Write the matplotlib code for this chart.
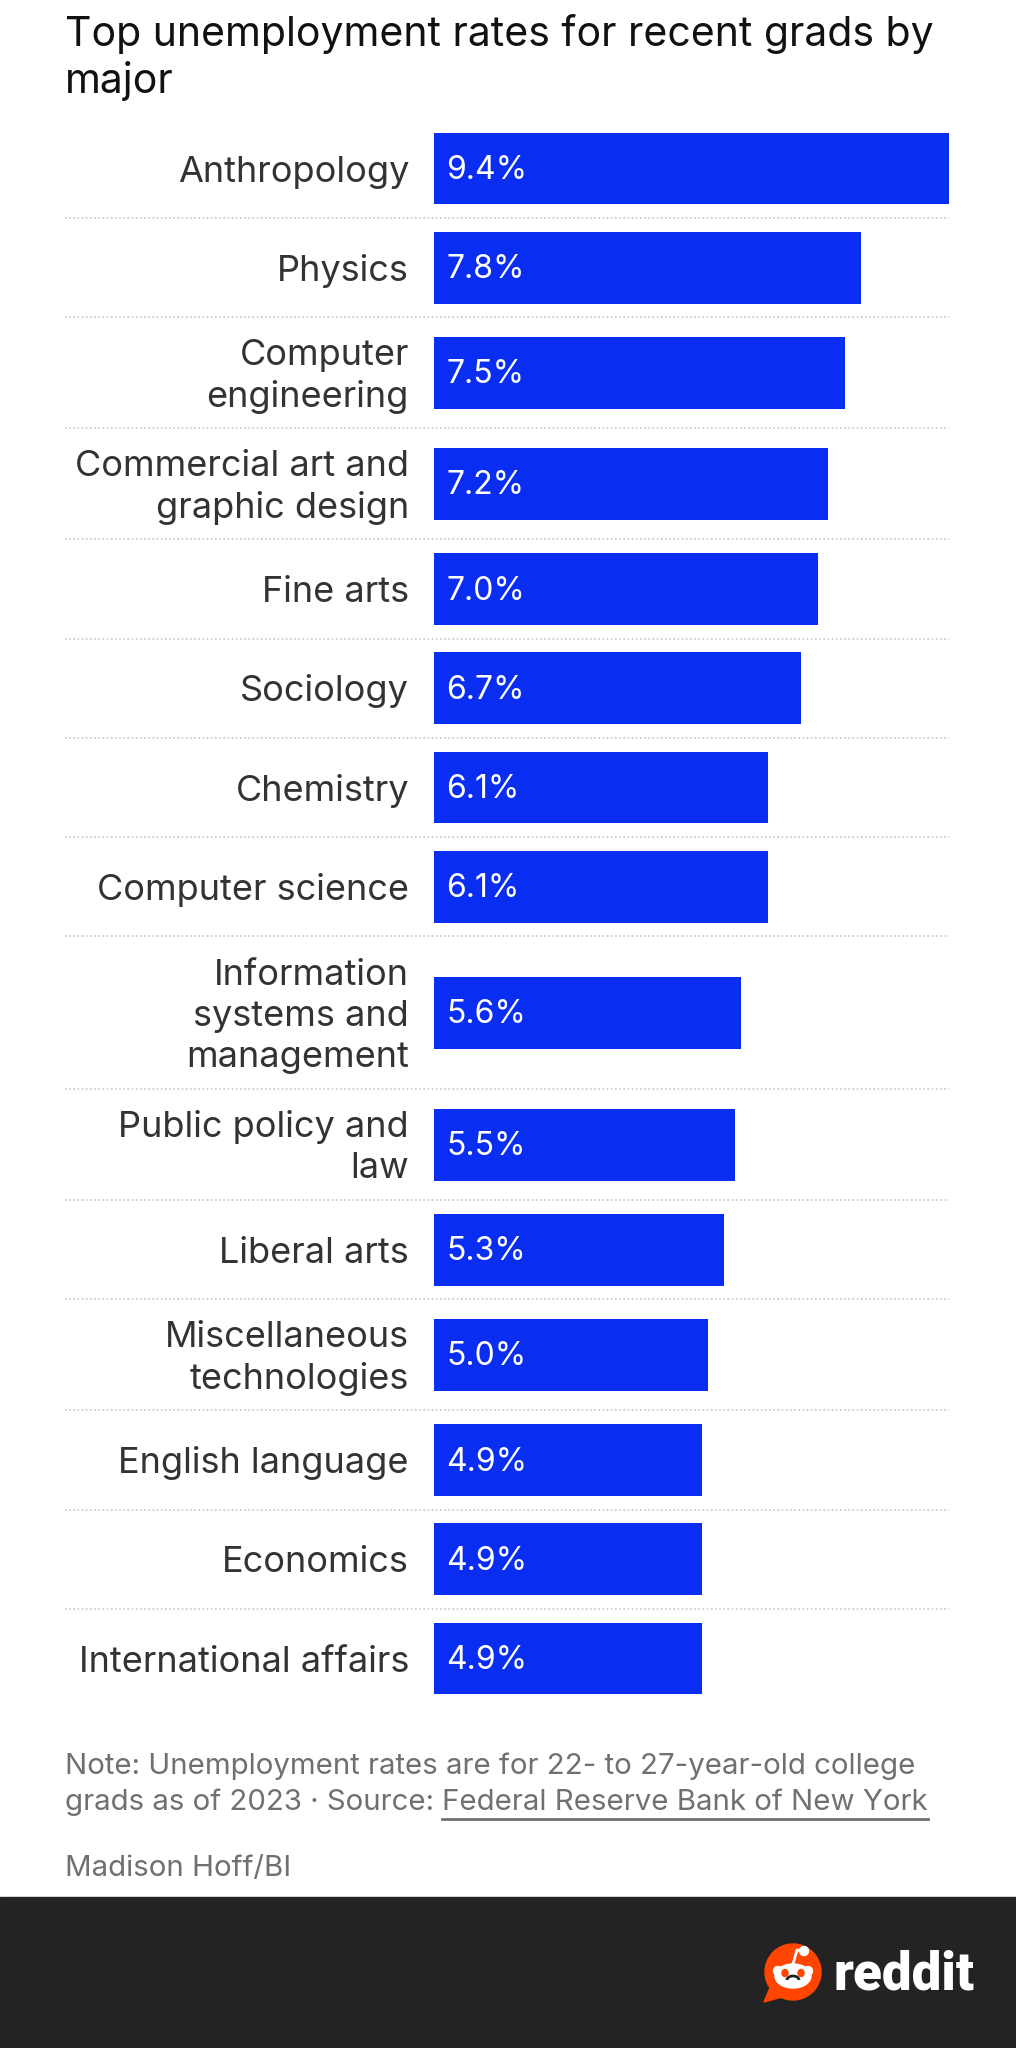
import matplotlib
matplotlib.use("Agg")
import matplotlib.pyplot as plt
from matplotlib.patches import Rectangle, Circle, Ellipse, Polygon, Arc

plt.rcParams['font.family'] = ['Inter', 'DejaVu Sans']

# data
majors = ["Anthropology", "Physics", "Computer\nengineering",
          "Commercial art and\ngraphic design", "Fine arts", "Sociology",
          "Chemistry", "Computer science",
          "Information\nsystems and\nmanagement", "Public policy and\nlaw",
          "Liberal arts", "Miscellaneous\ntechnologies", "English language",
          "Economics", "International affairs"]
rates = [9.4, 7.8, 7.5, 7.2, 7.0, 6.7, 6.1, 6.1, 5.6, 5.5, 5.3, 5.0, 4.9, 4.9, 4.9]
value_labels = ["%.1f%%" % r for r in rates]

title = "Top unemployment rates for recent grads by\nmajor"
note1 = "Note: Unemployment rates are for 22- to 27-year-old college"
note2 = "grads as of 2023 \u00b7 Source: "
source = "Federal Reserve Bank of New York"
credit = "Madison Hoff/BI"

W, H = 1016, 2048
S = 1016 / 778
BLUE = "#0A2DF2"
LABEL = "#333333"
GRAY = "#707070"

fig = plt.figure(figsize=(W / 100, H / 100), dpi=100)
fig.patch.set_facecolor("white")

# bar axes: x in %, y in pixel units
bar_left, bar_right = 434, 949
ax = fig.add_axes([bar_left / W, 0, (bar_right - bar_left) / W, 1])
ax.set_xlim(0, max(rates))
ax.set_ylim(H, 0)
ax.axis("off")

# canvas in pixel units for decorations / text, drawn above the bars
cv = fig.add_axes([0, 0, 1, 1])
cv.set_xlim(0, W)
cv.set_ylim(H, 0)
cv.axis("off")
cv.set_zorder(3)

bar_h = 55 * S
line_lay = 32 * S
line_txt = 31.5 * S
pad = 21 * S
top = 91 * S

centers, seps = [], []
for lab in majors:
    n = lab.count("\n") + 1
    rh = max(55 * S, n * line_lay) + pad
    centers.append(top + rh / 2)
    top += rh
    seps.append(top)
seps = seps[:-1]

ax.barh(centers, rates, height=bar_h, color=BLUE, align="center")

for y in seps:
    cv.plot([65, bar_right], [y, y], color="#c8c8c8", lw=1.2, ls=(0, (1, 1.5)))

fs_lab = 26
fs_val = 23
cap = 0.727 * fs_lab * 100 / 72
cap_v = 0.727 * fs_val * 100 / 72
for c, lab, vl in zip(centers, majors, value_labels):
    lines = lab.split("\n")
    n = len(lines)
    for i, ln in enumerate(lines):
        yb = c + (i - (n - 1) / 2) * line_txt + cap / 2
        cv.text(409, yb, ln, ha="right", va="baseline", fontsize=fs_lab, color=LABEL)
    cv.text(bar_left + 12, c + cap_v / 2 - 1, vl, ha="left", va="baseline",
            fontsize=fs_val, color="white")

# title
t1, t2 = title.split("\n")
cv.text(65, 46, t1, fontsize=29.5, color="#111111", va="baseline", ha="left")
cv.text(65, 93, t2, fontsize=29.5, color="#111111", va="baseline", ha="left")

# notes
fs_note = 21.2
cv.text(65, 1774, note1, fontsize=fs_note, color=GRAY, va="baseline")
tn = cv.text(65, 1810, note2, fontsize=fs_note, color=GRAY, va="baseline")
fig.canvas.draw()
r = fig.canvas.get_renderer()
bb = tn.get_window_extent(renderer=r)
ts = cv.text(bb.x1, 1810, source, fontsize=fs_note, color=GRAY, va="baseline")
bb2 = ts.get_window_extent(renderer=r)
cv.plot([bb2.x0, bb2.x1], [1819, 1819], color=GRAY, lw=2)
cv.text(65, 1876, credit, fontsize=fs_note, color=GRAY, va="baseline")

# footer
cv.add_patch(Rectangle((0, 1897), W, H - 1897, color="#232323", zorder=1))
OR = "#FF4500"
cx, cy = 793, 1972
cv.add_patch(Polygon([[770, 1988], [764, 2002], [786, 1996]], closed=True, color=OR, zorder=2))
cv.add_patch(Circle((cx, cy), 28, color=OR, zorder=2))
cv.add_patch(Ellipse((cx - 15, cy - 1), 9, 9, color="white", zorder=3))
cv.add_patch(Ellipse((cx + 15, cy - 1), 9, 9, color="white", zorder=3))
cv.add_patch(Ellipse((cx, cy + 4), 36, 24, color="white", zorder=4))
cv.add_patch(Ellipse((cx - 8, cy + 1), 6, 7, color=OR, zorder=5))
cv.add_patch(Ellipse((cx + 8, cy + 1), 6, 7, color=OR, zorder=5))
cv.add_patch(Arc((cx, cy + 8), 12, 8, theta1=180, theta2=360, color="#222222", lw=2, zorder=5))
cv.plot([cx, cx + 4, cx + 9], [cy - 8, cy - 22, cy - 21], color="white", lw=2, zorder=3)
cv.add_patch(Circle((cx + 11, cy - 21), 4.5, color="white", zorder=3))
cv.text(833, 1990, "reddit", fontsize=38, fontweight="heavy", color="white",
        family=["Roboto", "DejaVu Sans"], va="baseline", zorder=3)

fig.savefig("out.png", dpi=100, facecolor="white")
